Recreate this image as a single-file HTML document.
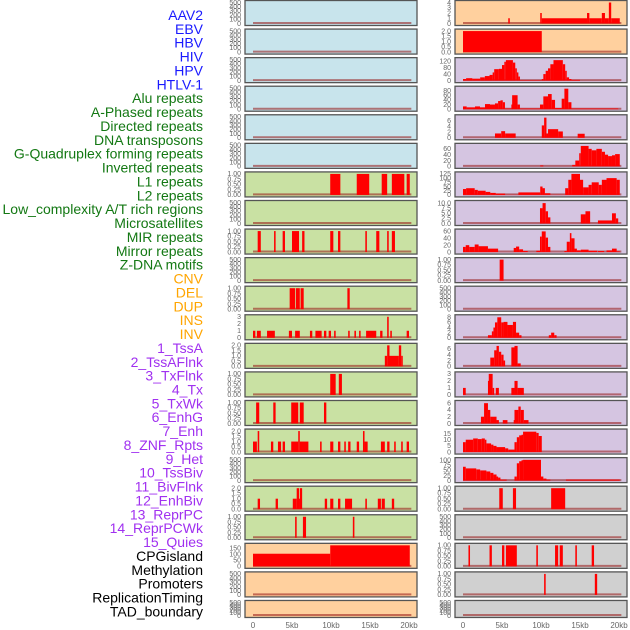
<!DOCTYPE html>
<html><head><meta charset="utf-8"><style>
html,body{margin:0;padding:0;background:#fff;}
svg{display:block;font-family:"Liberation Sans",sans-serif;}
</style></head><body>
<svg id="chart" width="630" height="630" viewBox="0 0 630 630" xmlns="http://www.w3.org/2000/svg"></svg>
<script>
const labels = ["AAV2","EBV","HBV","HIV","HPV","HTLV-1","Alu repeats","A-Phased repeats","Directed repeats","DNA transposons","G-Quadruplex forming repeats","Inverted repeats","L1 repeats","L2 repeats","Low_complexity A/T rich regions","Microsatellites","MIR repeats","Mirror repeats","Z-DNA motifs","CNV","DEL","DUP","INS","INV","1_TssA","2_TssAFlnk","3_TxFlnk","4_Tx","5_TxWk","6_EnhG","7_Enh","8_ZNF_Rpts","9_Het","10_TssBiv","11_BivFlnk","12_EnhBiv","13_ReprPC","14_ReprPCWk","15_Quies","CPGisland","Methylation","Promoters","ReplicationTiming","TAD_boundary"];
const labelColors = ["#1a1aff","#1a1aff","#1a1aff","#1a1aff","#1a1aff","#1a1aff"].concat(Array(13).fill("#137813"),Array(5).fill("#ffa500"),Array(15).fill("#a030f0"),Array(5).fill("#000"));
const xTicks = [0,5,10,15,20];
const xTickLabels = ["0","5kb","10kb","15kb","20kb"];
const E=[0,100,200,300,400,500], EL=["0","100","200","300","400","500"];
const B=[0,0.25,0.5,0.75,1], BL=["0.00","0.25","0.50","0.75","1.00"];
const H=[0,0.5,1,1.5,2], HL=["0.0","0.5","1.0","1.5","2.0"];
// per panel: left column rows 0..21 then right column rows 0..21
const panelTicks = [E,E,E,E,E,E,B,E,B,E,B,[0,1,2,3],H,B,B,H,E,H,B,[0,50,100,150],E,E,
 [0,1,2,3,4],H,[0,40,80,120],[0,20,40,60,80],[0,2,4,6],[0,20,40,60],[0,25,50,75,100,125],[0,2.5,5,7.5,10],[0,20,40,60],B,E,[0,2,4,6,8],[0,2,4,6],[0,1,2,3],[0,2,4,6],[0,5,10,15],[0,25,50,75,100],B,E,B,B,E];
const panelTickLabels = [EL,EL,EL,EL,EL,EL,BL,EL,BL,EL,BL,["0","1","2","3"],HL,BL,BL,HL,EL,HL,BL,["0","50","100","150"],EL,EL,
 ["0","1","2","3","4"],HL,["0","40","80","120"],["0","20","40","60","80"],["0","2","4","6"],["0","20","40","60"],["0","25","50","75","100","125"],["0.0","2.5","5.0","7.5","10.0"],["0","20","40","60"],BL,EL,["0","2","4","6","8"],["0","2","4","6"],["0","1","2","3"],["0","2","4","6"],["0","5","10","15"],["0","25","50","75","100"],BL,EL,BL,BL,EL];
const panelMax = [500,500,500,500,500,500,1,500,1,500,1,3,2,1,1,2,500,2,1,175,500,500,
 4,2,128,90,7.3,72,125,10.3,61,1,500,8.2,7.2,3,6.2,17,103,1,500,1,1,500];
const panelBg = ["#c8e4ec","#c8e4ec","#c8e4ec","#c8e4ec","#c8e4ec","#c8e4ec"].concat(Array(13).fill("#c9e1a3"),Array(3).fill("#ffd09e"),Array(2).fill("#ffd09e"),Array(15).fill("#d5c5e1"),Array(5).fill("#d0d0d0"));
// segments: [startKb, endKb, value]
const series = [
 [],[],[],[],[],[],
 [[9.9,11.2,1],[13.3,14.9,1],[16.5,17.2,1],[17.8,19.4,1],[19.7,20.1,1]],
 [],
 [[0.6,1.0,1],[2.7,2.9,1],[3.8,4.1,1],[5.0,5.9,1],[6.3,6.6,1],[9.9,10.3,1],[10.9,11.2,1],[14.4,14.6,1],[15.8,16.2,1],[17.2,17.4,1],[17.8,18.2,1]],
 [],
 [[4.7,5.4,1],[5.5,6.0,1],[6.1,6.5,1],[12.1,12.4,1]],
 [[0,0.3,1],[0.5,1.0,1],[1.8,2.8,1],[4.6,5.0,1],[5.4,6.0,1],[7.3,7.6,1],[8.0,8.8,1],[9.1,9.4,1],[9.7,10.0,1],[10.4,10.6,1],[12.2,12.4,1],[13.0,13.2,1],[13.6,13.8,1],[14.5,15.8,1],[16.3,16.6,1],[17.2,17.4,3],[17.6,17.8,1],[19.7,20.0,1]],
 [[16.9,17.2,1],[17.2,17.5,2],[17.5,18.7,1],[18.7,19.0,2],[19.0,19.2,1]],
 [[9.9,10.6,1],[11.0,11.4,1]],
 [[0.4,0.8,1],[2.6,2.9,1],[4.9,5.8,1],[6.0,6.5,1],[9.1,9.4,1]],
 [[0,0.5,1],[0.6,0.8,2],[2.3,2.6,1],[3.2,3.6,1],[3.8,4.1,1],[4.9,5.8,1],[5.8,6.0,2],[6.0,7.1,1],[8.6,8.8,1],[9.9,10.3,1],[10.9,11.2,1],[11.7,11.9,1],[12.2,12.5,1],[13.3,13.6,1],[14.1,14.3,2],[14.3,14.7,1],[16.4,16.9,1],[17.2,17.5,1],[18.1,18.3,1],[19.0,19.2,1],[19.7,20.0,1]],
 [],
 [[0.6,0.9,1],[2.9,3.2,1],[5.1,5.6,1],[5.6,5.9,2],[5.9,6.0,1],[6.0,6.3,2],[9.2,9.5,1],[9.9,10.3,1],[10.9,11.2,1],[11.8,12.7,1],[14.4,14.6,1],[16.0,16.4,1],[16.5,16.9,1],[17.8,18.1,1]],
 [[5.4,5.6,1],[6.4,6.8,1],[12.8,13.0,1]],
 [[0,9.9,105],[9.9,20.1,175]],
 [],[],
 // right column
 [[5.8,6.0,1],[9.9,10.1,2],[10.1,15.9,1],[15.9,16.2,2],[16.2,17.8,1],[17.8,18.2,2],[18.2,18.7,1],[18.7,19.0,4],[19.0,20.1,1]],
 [[0,10.1,2]],
 [[0,0.4,10],[0.4,1.2,15],[1.2,2.2,12],[2.2,2.8,20],[2.8,3.4,28],[3.4,3.8,35],[3.8,4.0,50],[4.0,4.6,70],[4.6,5.0,72],[5.0,5.3,95],[5.3,5.5,115],[5.5,6.4,125],[6.4,6.7,110],[6.7,6.9,75],[6.9,7.1,50],[7.1,7.3,25],[7.3,10.1,3],[10.1,10.3,10],[10.3,10.6,40],[10.6,10.9,60],[10.9,11.2,75],[11.2,11.6,100],[11.6,12.8,125],[12.8,13.1,100],[13.1,13.3,60],[13.3,13.6,20],[13.6,13.9,10],[13.9,15.0,5]],
 [[0,0.47,12],[0.47,1.54,8],[1.54,2.18,12],[2.18,2.82,8],[2.82,3.46,22],[3.46,4.1,20],[4.1,4.5,25],[4.5,4.8,35],[4.8,5.1,38],[5.1,5.38,30],[5.38,6.2,3],[6.2,6.3,20],[6.3,7.0,60],[7.0,7.3,20],[7.3,9.87,3],[9.87,10.3,20],[10.3,10.9,55],[10.9,11.37,65],[11.37,11.8,40],[11.8,12.65,5],[12.65,13.0,45],[13.0,13.5,88],[13.5,13.9,30],[13.9,19.9,3]],
 [[4.1,4.9,1.5],[4.9,5.4,2.3],[5.4,6.75,1.5],[10.1,10.4,4.3],[10.4,10.7,7],[10.7,10.9,1.5],[10.9,12.2,3],[12.2,12.8,2.2],[14.7,15.6,1.4]],
 [[9.9,10.3,3],[14.0,14.4,5],[14.4,14.9,20],[14.9,15.1,45],[15.1,16.1,70],[16.1,16.5,60],[16.5,17.1,55],[17.1,17.8,60],[17.8,18.2,50],[18.2,18.6,40],[18.6,19.1,35],[19.1,19.5,38],[19.5,20.1,42]],
 [[0,0.4,35],[0.4,1.5,40],[1.5,1.9,30],[1.9,2.9,25],[2.9,3.5,18],[3.5,4.2,12],[4.2,5.4,8],[5.4,7.1,1],[7.1,9.9,15],[9.9,10.2,50],[10.2,10.5,40],[10.5,11.2,10],[11.2,13.1,1],[13.1,13.5,40],[13.5,13.9,90],[13.9,15.0,125],[15.0,15.4,90],[15.4,16.1,45],[16.1,16.5,60],[16.5,17.4,75],[17.4,17.8,60],[17.8,18.4,90],[18.4,19.7,100],[19.7,20.1,90]],
 [[9.87,10.2,7.5],[10.2,10.6,10],[10.6,10.9,6],[10.9,11.2,3],[15.1,15.7,4.5],[15.7,16.3,6],[17.3,19.1,1.5],[19.1,19.6,5],[19.6,19.9,2.5]],
 [[0,0.35,15],[0.35,0.8,20],[0.8,1.5,15],[1.5,2.0,22],[2.0,3.2,17],[3.2,4.5,10],[6.5,6.8,12],[6.8,7.2,16],[7.2,7.7,8],[7.7,8.3,3],[9.4,9.87,4],[9.87,10.1,45],[10.1,10.6,60],[10.6,10.9,42],[10.9,11.2,15],[13.0,13.3,3],[13.3,13.7,30],[13.7,13.9,55],[13.9,14.3,40],[14.3,14.6,10],[14.6,15.1,5],[15.1,16.1,7],[16.1,17.2,4],[17.3,18.1,3],[18.4,19.1,5],[19.1,19.7,10],[19.7,20.1,2]],
 [[4.7,5.2,1]],
 [],
 [[3.2,3.7,1],[3.7,3.9,2.5],[3.9,4.1,4],[4.1,4.4,6],[4.4,4.9,8],[4.9,5.2,6],[5.2,5.7,6.2],[5.7,6.4,5],[6.4,6.8,6.2],[6.8,7.2,2],[7.2,7.5,1],[11.0,11.3,1],[11.3,11.7,2],[11.7,12.0,1]],
 [[3.5,4.0,3],[4.0,4.3,5.5],[4.3,4.6,7],[4.6,4.9,5],[4.9,5.2,4],[5.2,5.4,2],[6.2,6.6,6.5],[6.6,7.0,7],[7.0,7.4,1]],
 [[0,0.35,1],[3.2,3.3,2],[3.3,3.8,3],[3.8,4.0,1],[4.2,4.6,1],[6.2,6.6,1],[6.6,7.0,2],[7.0,7.8,1]],
 [[2.3,2.7,2],[2.7,3.2,6],[3.2,3.5,4],[3.5,4.3,2],[4.3,4.6,1],[5.1,5.7,1],[6.5,6.6,1],[6.6,7.1,4],[7.1,7.4,5],[7.4,7.8,4],[7.8,8.4,1]],
 [[0,0.35,8],[0.35,1.3,10],[1.3,1.9,11],[1.9,2.4,10.5],[2.4,2.8,11],[2.8,3.0,10],[3.0,3.6,7],[3.6,3.9,6],[3.9,4.3,5],[4.3,5.4,4],[5.4,5.8,3],[5.8,6.6,2],[6.6,6.9,8],[6.9,7.2,12],[7.2,7.5,13.5],[7.5,7.7,14],[7.7,9.4,16.5],[9.4,9.7,15.5],[9.7,10.1,13]],
 [[0,0.35,68],[0.35,1.7,60],[1.7,2.2,55],[2.2,3.0,50],[3.0,3.5,45],[3.5,3.9,38],[3.9,4.3,30],[4.3,4.5,20],[4.5,4.8,15],[4.8,5.6,5],[6.6,6.9,20],[6.9,7.2,85],[7.2,7.5,95],[7.5,7.7,100],[7.7,10.0,102],[10.0,10.3,20],[10.3,10.7,10],[10.7,11.2,5],[13.2,20.1,5]],
 [[4.65,5.1,1],[6.4,6.8,1],[11.3,13.1,1]],
 [],
 [[0.7,0.9,1],[3.4,3.7,1],[5.0,5.3,1],[5.5,6.9,1],[9.4,9.6,1],[11.8,12.2,1],[12.4,12.8,1],[14.4,14.6,1],[16.5,16.8,1]],
 [[10.4,10.6,1],[16.9,17.2,1]],
 []
];

const NS="http://www.w3.org/2000/svg";
const svg=document.getElementById('chart');
function mk(tag,attrs,parent){const e=document.createElementNS(NS,tag);for(const k in attrs)e.setAttribute(k,attrs[k]);(parent||svg).appendChild(e);return e;}

// labels
labels.forEach((t,i)=>{
  const el=mk('text',{x:203,y:(15+i*13.87+5).toFixed(2),'text-anchor':'end','font-size':'14',fill:labelColors[i]});
  el.textContent=t;
  
  
});

const colX=[245,455], panelW=172, step=28.57;
function xScale(col,kb){return colX[col]+8+kb*7.8;}

for(let p=0;p<44;p++){
  const col=p<22?0:1, row=p%22;
  const top=row*step, h=row===21?17:25;
  const g=mk('g',{});
  
  
  const x0=colX[col];
  const bg=mk('rect',{x:x0,y:top+0.5,width:panelW,height:h,fill:panelBg[p],stroke:'#555','stroke-width':1.3},g);
  
  
  const y0=top+h-1.5, y1=top+2.5, ymax=panelMax[p];
  const yS=v=>y0-(v/ymax)*(y0-y1);
  // ticks
  panelTicks[p].forEach((tv,k)=>{
    const tl=mk('text',{x:x0-4,y:(yS(tv)+2.3).toFixed(2),'text-anchor':'end','font-size':'7',fill:'#666'},g);
    tl.textContent=panelTickLabels[p][k];
    
    
  });
  // baseline
  const bl=mk('line',{x1:xScale(col,0),x2:xScale(col,20.3),y1:y0-0.5,y2:y0-0.5,stroke:'rgba(150,20,20,0.55)','stroke-width':2},g);
  
  
  // bars
  series[p].forEach(s=>{
    const xa=xScale(col,s[0]), xb=xScale(col,s[1]);
    const yt=yS(s[2]);
    const r=mk('rect',{x:xa.toFixed(2),y:yt.toFixed(2),width:Math.max(1.2,xb-xa).toFixed(2),height:Math.max(0,y0-yt).toFixed(2),fill:'#ff0000'},g);
    
    
  });
}
// x axes
[0,1].forEach(col=>{
  xTicks.forEach((t,k)=>{
    const tl=mk('text',{x:xScale(col,t),y:628,'text-anchor':'middle','font-size':'8',fill:'#666'});
    tl.textContent=xTickLabels[k];
    
    
  });
});
</script>
</body></html>
